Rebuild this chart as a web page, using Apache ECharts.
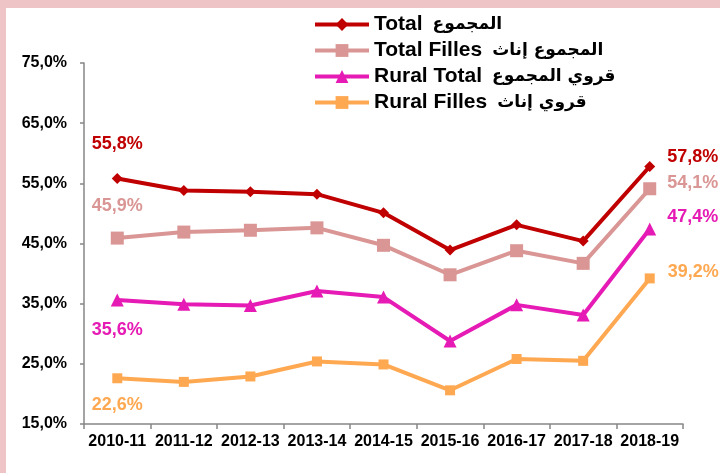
<!DOCTYPE html>
<html>
<head>
<meta charset="utf-8">
<script src="https://cdn.jsdelivr.net/npm/echarts@6/dist/echarts.min.js"></script>
<style>
  html, body { margin: 0; padding: 0; background: #ffffff; }
  #chart { width: 720px; height: 473px; }
</style>
</head>
<body>
<div id="chart"></div>
<script>
// categories and values (%)
const years = ['2010-11', '2011-12', '2012-13', '2013-14', '2014-15', '2015-16', '2016-17', '2017-18', '2018-19']
const total = [55.8, 53.8, 53.6, 53.2, 50.1, 43.9, 48.1, 45.4, 57.8]
const totalFilles = [45.9, 46.9, 47.2, 47.6, 44.7, 39.8, 43.8, 41.7, 54.1]
const ruralTotal = [35.6, 34.9, 34.7, 37.1, 36.1, 28.8, 34.8, 33.1, 47.4]
const ruralFilles = [22.6, 22.0, 22.9, 25.4, 24.9, 20.6, 25.8, 25.5, 39.2]
const yTicks = [15, 25, 35, 45, 55, 65, 75]
// legend names: French part, Arabic part
const namesFr = ['Total', 'Total Filles', 'Rural Total', 'Rural Filles']
const namesAr = ['المجموع', 'المجموع إناث', 'قروي المجموع', 'قروي إناث']
const names = namesFr.map((n, i) => n + '  ' + namesAr[i])

const FONT = '"Liberation Sans", "DejaVu Sans", sans-serif'
const pct = v => v.toFixed(1).replace('.', ',') + '%'

const chart = echarts.init(document.getElementById('chart'))

// label only the first and last point of a series
const withEndLabels = (values, first, last) => values.map((v, i) => {
  if (i === 0) return { value: v, label: Object.assign({ show: true }, first) }
  if (i === values.length - 1) return { value: v, label: Object.assign({ show: true }, last) }
  return v
})

const mkSeries = (name, values, color, symbol, size, first, last) => ({
  name, type: 'line', symbol, symbolSize: size,
  lineStyle: { color, width: 4 },
  itemStyle: { color },
  label: { color, fontFamily: FONT, fontWeight: 'bold', fontSize: 18, formatter: p => pct(p.value) },
  data: withEndLabels(values, first, last),
  z: 3
})

chart.setOption({
  animation: false,
  backgroundColor: '#ffffff',
  graphic: [
    { type: 'rect', left: 0, top: 0, shape: { width: 720, height: 8 }, style: { fill: '#efc4c7' }, silent: true },
    { type: 'rect', left: 0, top: 0, shape: { width: 6, height: 473 }, style: { fill: '#efc4c7' }, silent: true }
  ],
  grid: { left: 84, right: 37, top: 63, bottom: 49, containLabel: false },
  legend: {
    orient: 'vertical', left: 313, top: 14, padding: 0,
    itemWidth: 54, itemHeight: 16, itemGap: 5,
    lineStyle: { width: 4 },
    formatter: name => {
      const i = names.indexOf(name)
      return '{fr|' + namesFr[i] + '}   {ar|' + namesAr[i] + '}'
    },
    textStyle: {
      color: '#000', lineHeight: 20,
      rich: {
        fr: { fontFamily: FONT, fontWeight: 'bold', fontSize: 21, lineHeight: 20, color: '#000' },
        ar: { fontFamily: '"DejaVu Sans", sans-serif', fontWeight: 'bold', fontSize: 17, lineHeight: 20, color: '#000' }
      }
    },
    data: names
  },
  xAxis: {
    type: 'category', data: years, boundaryGap: true,
    axisLine: { lineStyle: { color: '#868686', width: 1.5 } },
    axisTick: { show: true, length: 5, lineStyle: { color: '#868686', width: 1.5 } },
    axisLabel: { color: '#000', fontFamily: FONT, fontWeight: 'bold', fontSize: 16, margin: 10, interval: 0 },
    splitLine: { show: false }
  },
  yAxis: {
    type: 'value', min: 15, max: 75,
    axisLine: { show: true, lineStyle: { color: '#868686', width: 1.5 } },
    axisTick: { show: true, length: 4, customValues: yTicks, lineStyle: { color: '#868686', width: 1.5 } },
    axisLabel: { color: '#000', fontFamily: FONT, fontWeight: 'bold', fontSize: 16, margin: 17, customValues: yTicks, formatter: v => pct(v) },
    splitLine: { show: false }
  },
  series: [
    mkSeries(names[0], total, '#c00000', 'diamond', 11,
      { position: 'top', distance: 20 }, { position: 'right', distance: 12, offset: [0, -9] }),
    mkSeries(names[1], totalFilles, '#d99694', 'rect', 13,
      { position: 'top', distance: 17 }, { position: 'right', distance: 11, offset: [0, -6] }),
    mkSeries(names[2], ruralTotal, '#e61ab4', 'triangle', 13,
      { position: 'bottom', distance: 14 }, { position: 'right', distance: 11, offset: [0, -12] }),
    mkSeries(names[3], ruralFilles, '#ffa852', 'rect', 10,
      { position: 'bottom', distance: 13 }, { position: 'right', distance: 13, offset: [0, -6] })
  ]
})
</script>
</body>
</html>
